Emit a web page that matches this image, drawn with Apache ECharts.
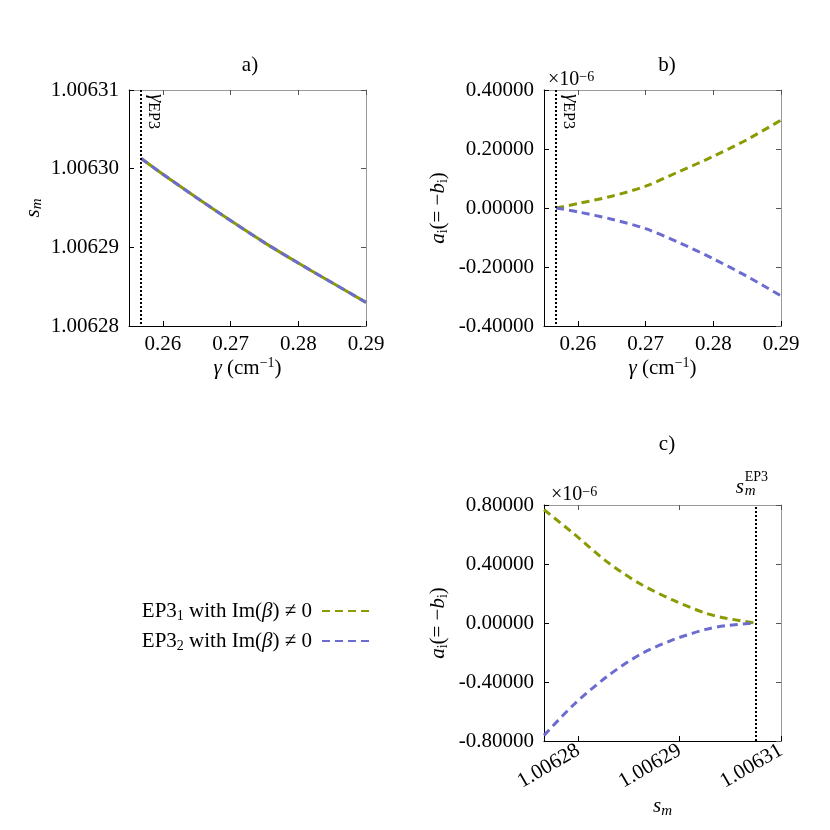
<!DOCTYPE html>
<html>
<head>
<meta charset="utf-8">
<script src="https://cdn.jsdelivr.net/npm/echarts@6/dist/echarts.min.js"></script>
<style>
html, body { margin: 0; padding: 0; background: #fff; }
#chart-container { width: 830px; height: 830px; }
</style>
</head>
<body>
<div id="chart-container"></div>
<script>
var dom = document.getElementById('chart-container');
var myChart = echarts.init(dom, null, { renderer: 'canvas' });

// a) s_m against gamma (both branches coincide)
var gammaA = [0.2568, 0.26, 0.265, 0.27, 0.275, 0.28, 0.285, 0.29];
var smA = [1.0063013, 1.0062993, 1.0062963, 1.0062934, 1.0062906, 1.006288, 1.0062855, 1.006283];

// b) a_i (x1e-6) against gamma
var gammaB = [0.2568, 0.26, 0.265, 0.27, 0.275, 0.28, 0.285, 0.29];
var aiB1 = [0, 0.015, 0.040, 0.074, 0.124, 0.175, 0.232, 0.298];
var aiB2 = [0, -0.013, -0.038, -0.070, -0.118, -0.172, -0.232, -0.298];

// c) a_i (x1e-6) against s_m
var smC = [1.0062766, 1.0062795, 1.0062828, 1.006286, 1.0062893, 1.0062926, 1.0062946, 1.0062975];
var aiC1 = [0.768, 0.608, 0.416, 0.269, 0.156, 0.066, 0.032, 0];
var aiC2 = [-0.762, -0.556, -0.364, -0.217, -0.115, -0.043, -0.018, 0];

// markers
var gammaEP3 = 0.2568;
var smEP3 = 1.0062975;

// ticks
var gammaTicks = [0.26, 0.27, 0.28, 0.29];
var smTicksA = [1.00628, 1.00629, 1.0063, 1.00631];
var aiTicksB = [-0.4, -0.2, 0, 0.2, 0.4];
var aiTicksC = [-0.8, -0.4, 0, 0.4, 0.8];
var smTicksC = [1.00628, 1.00629, 1.0063];
var smTickLabelsC = ['1.00628', '1.00629', '1.00631'];

var seriesNames = ['EP3_1', 'EP3_2'];
var legendLabels = ['EP3{sub|1} with Im({it|β}) ≠ 0', 'EP3{sub|2} with Im({it|β}) ≠ 0'];

var FONT = 'Liberation Serif';
var FS = 21;
var GREEN = '#8a9a00';
var BLUE = '#6b6bd0';

var rich = {
    it: { fontFamily: FONT, fontStyle: 'italic', fontSize: FS, lineHeight: 24, color: '#000' },
    sub: { fontFamily: FONT, fontSize: 14, lineHeight: 13, verticalAlign: 'bottom', color: '#000' },
    subit: { fontFamily: FONT, fontStyle: 'italic', fontSize: 15, lineHeight: 13, verticalAlign: 'bottom', color: '#000' },
    sup: { fontFamily: FONT, fontSize: 14, lineHeight: 13, verticalAlign: 'top', color: '#000' }
};
var textBase = { fontFamily: FONT, fontSize: FS, color: '#000', lineHeight: 24, rich: rich };

function mainX(grid, min, max, ticks, fmt, name, gap, rotate) {
    return {
        type: 'value', gridIndex: grid, position: 'bottom', min: min, max: max,
        axisLine: { show: true, onZero: false, lineStyle: { color: '#000', width: 1 } },
        axisTick: { show: true, inside: true, length: 5, customValues: ticks, lineStyle: { color: '#000' } },
        axisLabel: { show: true, customValues: ticks, formatter: fmt, margin: 8, rotate: rotate || 0,
            fontFamily: FONT, fontSize: FS, color: '#000' },
        splitLine: { show: false },
        name: name, nameLocation: 'middle', nameGap: gap, nameTextStyle: textBase
    };
}
function topX(grid, min, max, ticks) {
    return {
        type: 'value', gridIndex: grid, position: 'top', min: min, max: max,
        axisLine: { show: true, onZero: false, lineStyle: { color: '#999', width: 1 } },
        axisTick: { show: true, inside: true, length: 5, customValues: ticks, lineStyle: { color: '#555' } },
        axisLabel: { show: false }, splitLine: { show: false }
    };
}
function mainY(grid, min, max, ticks, fmt, name, gap) {
    return {
        type: 'value', gridIndex: grid, position: 'left', min: min, max: max,
        axisLine: { show: true, onZero: false, lineStyle: { color: '#000', width: 1 } },
        axisTick: { show: true, inside: true, length: 5, customValues: ticks, lineStyle: { color: '#000' } },
        axisLabel: { show: true, customValues: ticks, formatter: fmt, margin: 10,
            fontFamily: FONT, fontSize: FS, color: '#000' },
        splitLine: { show: false },
        name: name, nameLocation: 'middle', nameGap: gap, nameTextStyle: textBase
    };
}
function rightY(grid, min, max, ticks) {
    return {
        type: 'value', gridIndex: grid, position: 'right', min: min, max: max,
        axisLine: { show: true, onZero: false, lineStyle: { color: '#999', width: 1 } },
        axisTick: { show: true, inside: true, length: 5, customValues: ticks, lineStyle: { color: '#555' } },
        axisLabel: { show: false }, splitLine: { show: false }
    };
}

function zip(xs, ys) {
    return xs.map(function (x, i) { return [x, ys[i]]; });
}

var fmt2 = function (v) { return v.toFixed(2); };
var fmt5 = function (v) { return v.toFixed(5); };
var fmtC = function (v) {
    var best = 0;
    smTicksC.forEach(function (t, i) {
        if (Math.abs(t - v) < Math.abs(smTicksC[best] - v)) best = i;
    });
    return smTickLabelsC[best];
};

var dotted = { color: '#000', type: [2, 2], width: 2 };
var gammaLabel = {
    show: true, position: 'insideStartTop', distance: 4,
    formatter: '{g|γ}{e|EP3}',
    rich: {
        g: { fontFamily: FONT, fontStyle: 'italic', fontSize: 21, color: '#000' },
        e: { fontFamily: FONT, fontSize: 16, color: '#000', padding: [6, 0, 0, 0] }
    }
};

function dashed(name, color, xi, yi, data, extra) {
    var s = {
        name: name, type: 'line', xAxisIndex: xi, yAxisIndex: yi, data: data,
        smooth: 0.3, symbol: 'none', showSymbol: false, silent: true,
        lineStyle: { color: color, width: 3, type: [8, 5] },
        itemStyle: { color: color },
        emphasis: { disabled: true }
    };
    if (extra) Object.assign(s, extra);
    return s;
}

var titleStyle = { fontFamily: FONT, fontSize: FS, fontWeight: 'normal', color: '#000' };
var scaleStyle = { fontFamily: FONT, fontSize: 20, fontWeight: 'normal', color: '#000', lineHeight: 20, rich: rich };

var option = {
    animation: false,
    backgroundColor: '#fff',
    title: [
        { text: 'a)', left: 245, top: 50, textAlign: 'center', textStyle: titleStyle },
        { text: 'b)', left: 662, top: 50, textAlign: 'center', textStyle: titleStyle },
        { text: 'c)', left: 662, top: 429, textAlign: 'center', textStyle: titleStyle },
        { text: '×10{sup|−6}', left: 548, top: 70, padding: 0, textStyle: scaleStyle },
        { text: '×10{sup|−6}', left: 551, top: 485, padding: 0, textStyle: scaleStyle }
    ],
    legend: {
        orient: 'vertical', right: 455, top: 594, align: 'right',
        itemWidth: 47, itemHeight: 2, itemGap: 6,
        itemStyle: { opacity: 0 },
        data: seriesNames,
        formatter: function (name) { return legendLabels[seriesNames.indexOf(name)]; },
        textStyle: Object.assign({}, textBase, { padding: [0, 5, 0, 0] }),
        selectedMode: false
    },
    grid: [
        { left: 129, top: 90, width: 237, height: 236, containLabel: false, outerBoundsMode: 'none' },
        { left: 544, top: 90, width: 237, height: 236, containLabel: false, outerBoundsMode: 'none' },
        { left: 544, top: 505, width: 237, height: 236, containLabel: false, outerBoundsMode: 'none' }
    ],
    xAxis: [
        mainX(0, 0.255, 0.29, gammaTicks, fmt2, '{it|γ} (cm{sup|−1})', 30),
        mainX(1, 0.255, 0.29, gammaTicks, fmt2, '{it|γ} (cm{sup|−1})', 30),
        mainX(2, 1.0062766, 1.0063, smTicksC, fmtC, '{it|s}{subit|m}', 44, 30),
        topX(0, 0.255, 0.29, gammaTicks),
        topX(1, 0.255, 0.29, gammaTicks),
        topX(2, 1.0062766, 1.0063, smTicksC)
    ],
    yAxis: [
        mainY(0, 1.00628, 1.00631, smTicksA, fmt5, '{it|s}{subit|m}', 84),
        mainY(1, -0.4, 0.4, aiTicksB, fmt5, '{it|a}{sub|i}(= −{it|b}{sub|i})', 94),
        mainY(2, -0.8, 0.8, aiTicksC, fmt5, '{it|a}{sub|i}(= −{it|b}{sub|i})', 94),
        rightY(0, 1.00628, 1.00631, smTicksA),
        rightY(1, -0.4, 0.4, aiTicksB),
        rightY(2, -0.8, 0.8, aiTicksC)
    ],
    series: [
        dashed(seriesNames[0], GREEN, 1, 1, zip(gammaB, aiB1), {
            markLine: {
                silent: true, symbol: ['none', 'none'], lineStyle: dotted, label: gammaLabel,
                data: [[{ coord: [gammaEP3, 0.4] }, { coord: [gammaEP3, -0.4] }]]
            }
        }),
        dashed(seriesNames[1], BLUE, 1, 1, zip(gammaB, aiB2)),
        dashed(seriesNames[0], GREEN, 0, 0, zip(gammaA, smA), {
            lineStyle: { color: GREEN, width: 3, type: 'solid' },
            markLine: {
                silent: true, symbol: ['none', 'none'], lineStyle: dotted, label: gammaLabel,
                data: [[{ coord: [gammaEP3, 1.00631] }, { coord: [gammaEP3, 1.00628] }]]
            }
        }),
        dashed(seriesNames[1], BLUE, 0, 0, zip(gammaA, smA)),
        dashed(seriesNames[0], GREEN, 2, 2, zip(smC, aiC1), {
            markLine: {
                silent: true, symbol: ['none', 'none'], lineStyle: dotted, label: { show: false },
                data: [[{ coord: [smEP3, -0.8] }, { coord: [smEP3, 0.8] }]]
            }
        }),
        dashed(seriesNames[1], BLUE, 2, 2, zip(smC, aiC2))
    ]
};

myChart.setOption(option);

// s_m^EP3 label above the marker line of panel c
var p = myChart.convertToPixel({ gridIndex: 2 }, [smEP3, 0.8]);
myChart.setOption({
    graphic: [
        { type: 'text', x: p[0] - 20, y: p[1] - 18, silent: true,
          style: { text: 's', fontFamily: FONT, fontStyle: 'italic', fontSize: 21, fill: '#000', verticalAlign: 'middle' } },
        { type: 'text', x: p[0] - 11, y: p[1] - 28, silent: true,
          style: { text: 'EP3', fontFamily: FONT, fontSize: 14, fill: '#000', verticalAlign: 'middle' } },
        { type: 'text', x: p[0] - 11, y: p[1] - 14, silent: true,
          style: { text: 'm', fontFamily: FONT, fontStyle: 'italic', fontSize: 15, fill: '#000', verticalAlign: 'middle' } }
    ]
});

window.addEventListener('resize', myChart.resize);
</script>
</body>
</html>
